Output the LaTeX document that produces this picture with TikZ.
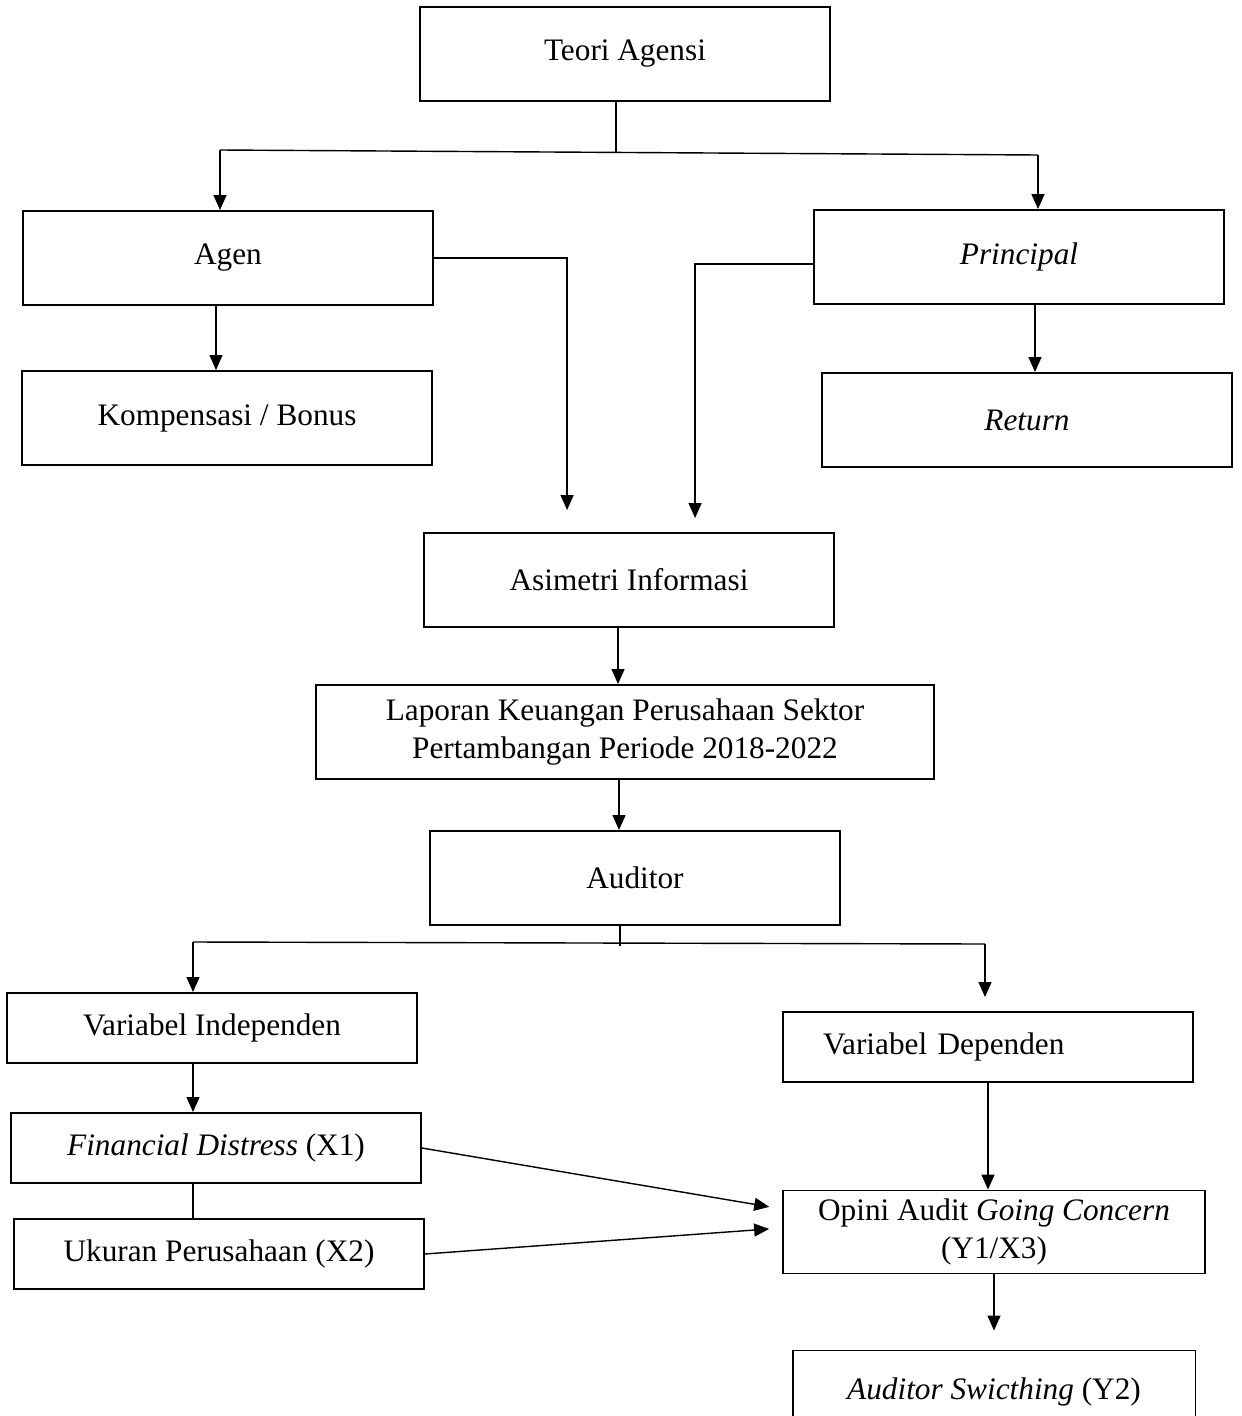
\documentclass[tikz,border=0pt]{standalone}
\usepackage{fontspec}
\setmainfont{Liberation Serif}
\usetikzlibrary{arrows.meta,positioning,calc}

\tikzset{
  kotak/.style={draw, line width=1.1pt, minimum width=8.2cm, minimum height=1.88cm, align=center, inner sep=0pt},
  kotakrendah/.style={kotak, minimum height=1.4cm},
  panah/.style={-{Triangle[width=0.26cm,length=0.3cm]}, line width=0.8pt},
  garis/.style={line width=0.8pt},
}

\begin{document}
\begin{tikzpicture}[x=0.02cm, y=-0.02cm, every node/.style={font=\fontsize{17.8}{22}\selectfont}]
    \useasboundingbox (0,0) rectangle (1241,1416);
    \node[kotak] (teori) at (625,54) {Teori Agensi};
    \node[kotak] (agen) at (228,258) {Agen};
    \node[kotak] (principal) at (1019,257) {\textit{Principal}};
    \node[kotak] (kompensasi) at (227,418) {Kompensasi / Bonus};
    \node[kotak] (return) at (1027,420) {\textit{Return}};
    \node[kotak] (asimetri) at (629,580) {Asimetri Informasi};
    \node[kotak, minimum width=12.36cm] (laporan) at (625,732) {Laporan Keuangan Perusahaan Sektor\\Pertambangan Periode 2018-2022};
    \node[kotak] (auditor) at (635,878) {Auditor};
    \node[kotakrendah] (independen) at (212,1028) {Variabel Independen};
    \node[kotakrendah, text width=6.6cm, align=left] (dependen) at (988,1047) {Variabel Dependen};
    \node[kotakrendah] (distress) at (216,1148) {\textit{Financial Distress} (X1)};
    \node[kotakrendah] (ukuran) at (219,1254) {Ukuran Perusahaan (X2)};
    \node[kotak, minimum width=8.44cm, minimum height=1.66cm] (opini) at (994,1232) {Opini Audit \textit{Going Concern}\\(Y1/X3)};
    \node[kotak, minimum width=8.06cm, minimum height=1.66cm] (switching) at (994,1392) {\textit{Auditor Swicthing} (Y2)};

    % cabang teori agensi
    \coordinate (cabang1) at (616,153);
    \coordinate (kiri1) at (220,150);
    \coordinate (kanan1) at (1038,155);
    \draw[garis] (teori.south -| cabang1) -- (cabang1);
    \draw[garis] (kiri1) -- (kanan1);
    \draw[panah] (kiri1) -- (kiri1 |- agen.north);
    \draw[panah] (kanan1) -- (kanan1 |- principal.north);

    \draw[panah] ($(agen.south)+(-12,0)$) -- ($(kompensasi.north)+(-11,0)$);
    \draw[panah] ($(principal.south)+(16,0)$) -- ($(return.north)+(8,0)$);
    \draw[panah, shorten >=0.44cm] (agen.east) -| ($(asimetri.north west)+(144,0)$);
    \draw[panah, shorten >=0.28cm] ($(principal.west)+(0,7)$) -| ($(asimetri.north west)+(272,0)$);

    \draw[panah] ($(asimetri.south)+(-11,0)$) -- ($(laporan.north)+(-7,0)$);
    \draw[panah] ($(laporan.south)+(-6,0)$) -- ($(auditor.north)+(-16,0)$);

    % cabang auditor
    \coordinate (cabang2) at (620,946);
    \coordinate (kiri2) at (193,942);
    \coordinate (kanan2) at (985,944);
    \draw[garis] (auditor.south -| cabang2) -- (cabang2);
    \draw[garis] (kiri2) -- (kanan2);
    \draw[panah] (kiri2) -- (kiri2 |- independen.north);
    \draw[panah, shorten >=0.28cm] (kanan2) -- (kanan2 |- dependen.north);

    \draw[panah] (independen.south -| kiri2) -- (kiri2 |- distress.north);
    \draw[garis] (distress.south -| kiri2) -- (kiri2 |- ukuran.north);
    \draw[panah, shorten >=0.26cm] (distress.east) -- ($(opini.west)+(0,-23)$);
    \draw[panah, shorten >=0.26cm] (ukuran.east) -- ($(opini.west)+(0,-4)$);
    \draw[panah] (dependen.south) -- (dependen.south |- opini.north);
    \draw[panah, shorten >=0.38cm] (opini.south) -- (switching.north);
\end{tikzpicture}
\end{document}
